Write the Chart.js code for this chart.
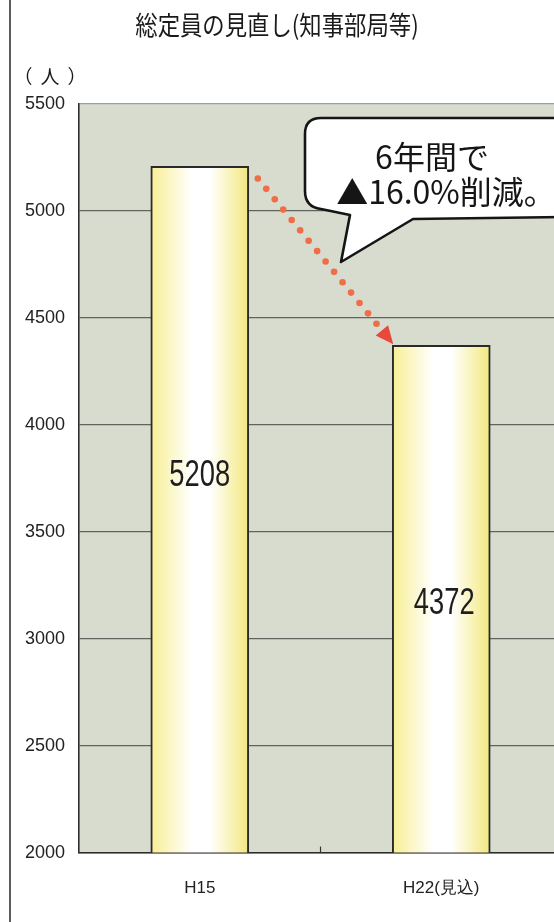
<!DOCTYPE html>
<html>
<head>
<meta charset="utf-8">
<script src="https://cdn.jsdelivr.net/npm/chart.js@4/dist/chart.umd.min.js"></script>
<style>
  html, body { margin: 0; padding: 0; background: #ffffff; }
  #wrap { width: 554px; height: 922px; overflow: hidden; position: relative; }
  canvas { display: block; }
</style>
</head>
<body>
<div id="wrap"><canvas id="chart" width="566" height="945"></canvas></div>
<script>
// 総定員（知事部局等）の推移
const categories = ['H15', 'H22(見込)'];
const staffCounts = [5208, 4372];
const yMin = 2000;
const yMax = 5500;
const yStep = 500;
const titleText = '総定員の見直し(知事部局等)';
const unitText = '（人）';
const calloutLines = ['6年間で', '▲16.0%削減。'];

const sans = "'Liberation Sans', Arial, sans-serif";
const jp = "'Noto Sans CJK JP', 'Noto Sans', sans-serif";

// yellow-white-yellow sheen across each bar
function barSheen(c) {
  const chart = c.chart;
  if (!chart.chartArea || c.dataIndex === undefined) return '#fbf6c0';
  const cx = chart.scales.x.getPixelForValue(c.dataIndex);
  const half = 49;
  const g = chart.ctx.createLinearGradient(cx - half, 0, cx + half, 0);
  g.addColorStop(0, '#f7ee92');
  g.addColorStop(0.18, '#fbf6c2');
  g.addColorStop(0.42, '#ffffff');
  g.addColorStop(0.6, '#ffffff');
  g.addColorStop(0.85, '#f8f1ae');
  g.addColorStop(1, '#f1e67e');
  return g;
}

// page frame and plot background
const backdrop = {
  id: 'backdrop',
  beforeDraw(chart) {
    const { ctx, chartArea: a } = chart;
    ctx.save();
    ctx.fillStyle = '#d7dccf';
    ctx.fillRect(a.left, a.top, a.right - a.left, a.bottom - a.top);
    ctx.strokeStyle = '#5c5c5c';
    ctx.lineWidth = 2;
    ctx.beginPath();
    ctx.moveTo(10, 0);
    ctx.lineTo(10, chart.height);
    ctx.stroke();
    ctx.restore();
  }
};

// titles, value labels, trend arrow and callout
const annotations = {
  id: 'annotations',
  afterDraw(chart) {
    const { ctx, chartArea: a, scales: { x, y } } = chart;
    const bars = chart.getDatasetMeta(0).data;
    ctx.save();

    // title (slightly condensed)
    ctx.fillStyle = '#1a1a1a';
    ctx.textAlign = 'center';
    ctx.textBaseline = 'middle';
    ctx.font = '26px ' + jp;
    ctx.save();
    ctx.translate(277, 25);
    ctx.scale(0.86, 1);
    ctx.fillText(titleText, 0, 0);
    ctx.restore();

    // unit, with the brackets set a little apart
    ctx.font = '19px ' + jp;
    const unitChars = Array.from(unitText);
    const unitX = [23, 50, 77];
    unitChars.forEach((ch, i) => ctx.fillText(ch, unitX[i], 77));

    // small tick between categories on the baseline
    const mid = x.getPixelForValue(0.5);
    ctx.strokeStyle = '#333';
    ctx.lineWidth = 1.2;
    ctx.beginPath();
    ctx.moveTo(mid, a.bottom);
    ctx.lineTo(mid, a.bottom - 6);
    ctx.stroke();

    // value labels inside the bars (condensed)
    const labelFrac = [0.45, 0.51];
    const base = y.getPixelForValue(yMin);
    ctx.font = '36px ' + sans;
    ctx.fillStyle = '#1e1e1e';
    bars.forEach((bar, i) => {
      const top = y.getPixelForValue(staffCounts[i]);
      const ty = top + (base - top) * labelFrac[i];
      ctx.save();
      ctx.translate(bar.x + (i === 1 ? 3 : 0), ty);
      ctx.scale(0.76, 1.04);
      ctx.fillText(String(staffCounts[i]), 0, 0);
      ctx.restore();
    });

    // dotted trend arrow from first bar to second bar
    const b0 = bars[0], b1 = bars[1];
    const sx = b0.x + b0.width / 2 + 9, sy = y.getPixelForValue(staffCounts[0]) + 12;
    const tx = b1.x - b1.width / 2 + 1, ty = y.getPixelForValue(staffCounts[1]) - 1;
    const len = Math.hypot(tx - sx, ty - sy);
    const ux = (tx - sx) / len, uy = (ty - sy) / len;
    const head = 18;
    ctx.fillStyle = '#ef6d47';
    for (let d = 0; d <= len - head - 2; d += 13.4) {
      ctx.beginPath();
      ctx.arc(sx + ux * d, sy + uy * d, 3.3, 0, Math.PI * 2);
      ctx.fill();
    }
    const bx = tx - ux * head, by = ty - uy * head;
    ctx.fillStyle = '#e8493b';
    ctx.beginPath();
    ctx.moveTo(tx, ty);
    ctx.lineTo(bx - uy * 8, by + ux * 8);
    ctx.lineTo(bx + uy * 8, by - ux * 8);
    ctx.closePath();
    ctx.fill();

    // speech bubble
    const L = 305, T = 118, R = 580, B = 217, rad = 16;
    ctx.beginPath();
    ctx.moveTo(L + rad, T);
    ctx.lineTo(R - rad, T);
    ctx.quadraticCurveTo(R, T, R, T + rad);
    ctx.lineTo(R, B - rad);
    ctx.quadraticCurveTo(R, B, R - rad, B);
    ctx.lineTo(413, B + 2);
    ctx.lineTo(341, 262);
    ctx.lineTo(350, B - 2);
    ctx.lineTo(L + rad, B - 8);
    ctx.quadraticCurveTo(L, B - 10, L, B - 10 - rad);
    ctx.lineTo(L, T + rad);
    ctx.quadraticCurveTo(L, T, L + rad, T);
    ctx.closePath();
    ctx.fillStyle = '#ffffff';
    ctx.fill();
    ctx.strokeStyle = '#151515';
    ctx.lineWidth = 2.6;
    ctx.lineJoin = 'round';
    ctx.stroke();

    ctx.fillStyle = '#151515';
    ctx.font = '32px ' + jp;
    ctx.fillText(calloutLines[0], 432, 157);
    ctx.fillText(calloutLines[1], 446, 192);

    ctx.restore();
  }
};

new Chart(document.getElementById('chart'), {
  type: 'bar',
  data: {
    labels: categories,
    datasets: [{
      data: staffCounts,
      backgroundColor: barSheen,
      borderColor: '#2a2a2a',
      borderWidth: 2,
      borderSkipped: false,
      barThickness: 98
    }]
  },
  options: {
    responsive: false,
    animation: false,
    devicePixelRatio: 1,
    layout: { padding: { top: 104, left: 11, right: 4, bottom: 20 } },
    plugins: {
      legend: { display: false },
      tooltip: { enabled: false },
      title: { display: false }
    },
    scales: {
      x: {
        grid: { display: false, drawTicks: false },
        border: { color: '#2e2e2e', width: 1.6 },
        ticks: {
          padding: 26,
          color: '#222',
          font: { family: sans, size: 17 }
        }
      },
      y: {
        min: yMin,
        max: yMax,
        grid: {
          drawTicks: false,
          color: ctx => ctx.tick && ctx.tick.value === yMax ? '#9aa096' : '#5f645c',
          lineWidth: 1.3
        },
        border: { color: '#2e2e2e', width: 1.6 },
        ticks: {
          stepSize: yStep,
          padding: 14,
          color: '#222',
          font: { family: sans, size: 18 },
          callback: v => String(v)
        }
      }
    }
  },
  plugins: [backdrop, annotations]
});
</script>
</body>
</html>
